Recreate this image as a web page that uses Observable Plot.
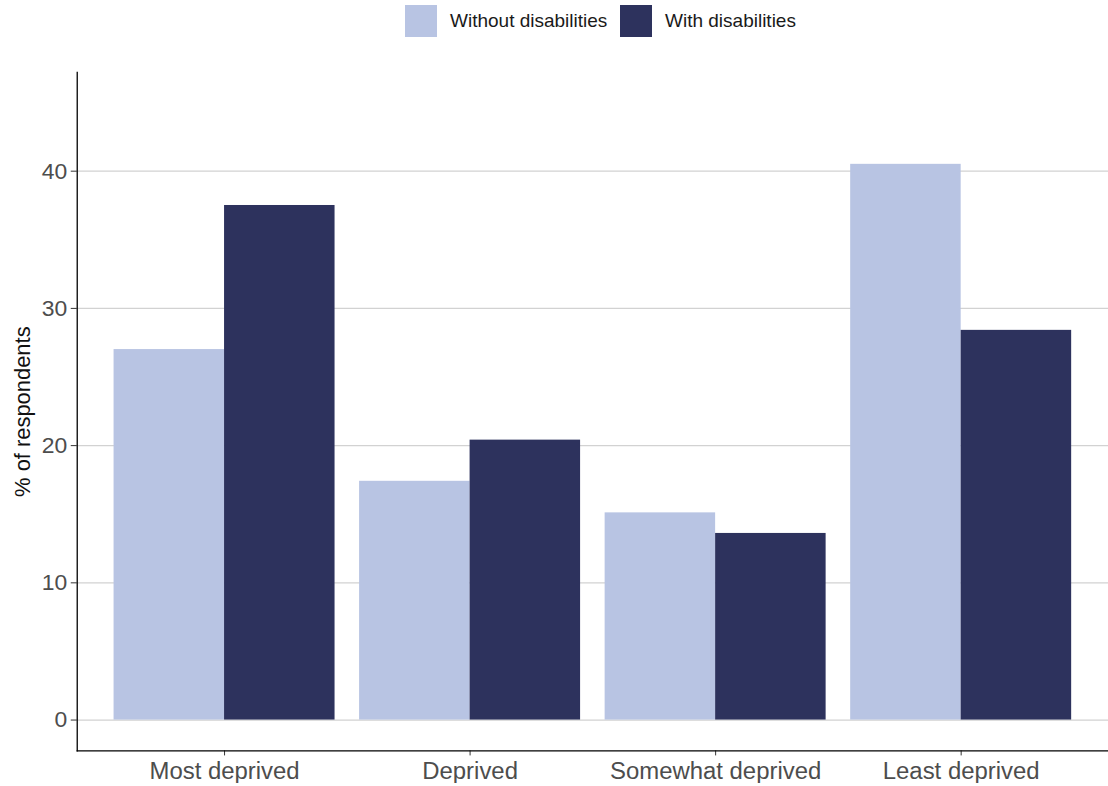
<!DOCTYPE html>
<html>
<head>
<meta charset="utf-8">
<script src="https://cdn.jsdelivr.net/npm/d3@7"></script>
<script src="https://cdn.jsdelivr.net/npm/@observablehq/plot@0.6"></script>
<style>
  html, body { margin: 0; padding: 0; background: #fff; overflow: hidden; width: 1108px; height: 786px; }
  body { font-family: "Liberation Sans", Arial, sans-serif; }
  #legend { position: relative; height: 42px; }
  .item { position: absolute; top: 5px; height: 32px; display: flex; align-items: center; font-size: 19px; color: #1a1a1a; }
  .sw { width: 32px; height: 32px; margin-right: 13px; }
  #chart { position: absolute; top: 42px; left: 0; }
</style>
</head>
<body>
<div id="legend"></div>
<div id="chart"></div>
<script>
const categories = ["Most deprived", "Deprived", "Somewhat deprived", "Least deprived"];
const groups = ["Without disabilities", "With disabilities"];
const withoutValues = [27.0, 17.4, 15.1, 40.5];
const withValues = [37.5, 20.4, 13.6, 28.4];
const yTicks = [0, 10, 20, 30, 40];
const colors = ["#B8C4E3", "#2D325D"];

const rowsWithout = categories.map((c, i) => ({category: c, group: groups[0], value: withoutValues[i]}));
const rowsWith = categories.map((c, i) => ({category: c, group: groups[1], value: withValues[i]}));

// legend
const legend = document.getElementById("legend");
const lefts = [405, 620];
groups.forEach((g, i) => {
  const d = document.createElement("div");
  d.className = "item";
  d.style.left = lefts[i] + "px";
  d.innerHTML = `<div class="sw" style="background:${colors[i]}"></div><span>${g}</span>`;
  legend.appendChild(d);
});

function make(half) {
  return Plot.plot({
    width: 1112,
    height: 744,
    marginLeft: 77,
    marginRight: 0,
    marginTop: 30,
    marginBottom: 33,
    style: {fontFamily: "Liberation Sans, Arial, sans-serif", fontSize: "22px", color: "#4d4d4d", background: "transparent"},
    x: {type: "band", domain: categories, paddingInner: 0.1, paddingOuter: 0.15, align: 0.5, round: false, label: null},
    y: {domain: [-2.25, 47.2], label: null},
    color: {domain: groups, range: colors},
    marks: [
      Plot.ruleY(yTicks, {stroke: "#d2d2d2", strokeWidth: 1.2}),
      Plot.barY(rowsWithout, {x: "category", y: "value", fill: "group", insetLeft: 0, insetRight: half}),
      Plot.barY(rowsWith, {x: "category", y: "value", fill: "group", insetLeft: half, insetRight: 0}),
      Plot.axisX({tickSize: 5, tickPadding: 6, stroke: "#333", fill: "#4d4d4d", fontSize: 24, label: null}),
      Plot.axisY({ticks: yTicks, tickSize: 6, tickPadding: 4, stroke: "#333", fill: "#4d4d4d", fontSize: 23, label: null}),
      Plot.axisY({ticks: [], label: "% of respondents", labelAnchor: "center", labelArrow: "none", labelOffset: 63, fill: "#111", fontSize: 22}),
      Plot.frame({anchor: "left", stroke: "#000", strokeWidth: 1.3}),
      Plot.frame({anchor: "bottom", stroke: "#000", strokeWidth: 1.3})
    ]
  });
}
const tmp = make(0);
const half = tmp.scale("x").bandwidth / 2;
document.getElementById("chart").appendChild(make(half));
</script>
</body>
</html>
